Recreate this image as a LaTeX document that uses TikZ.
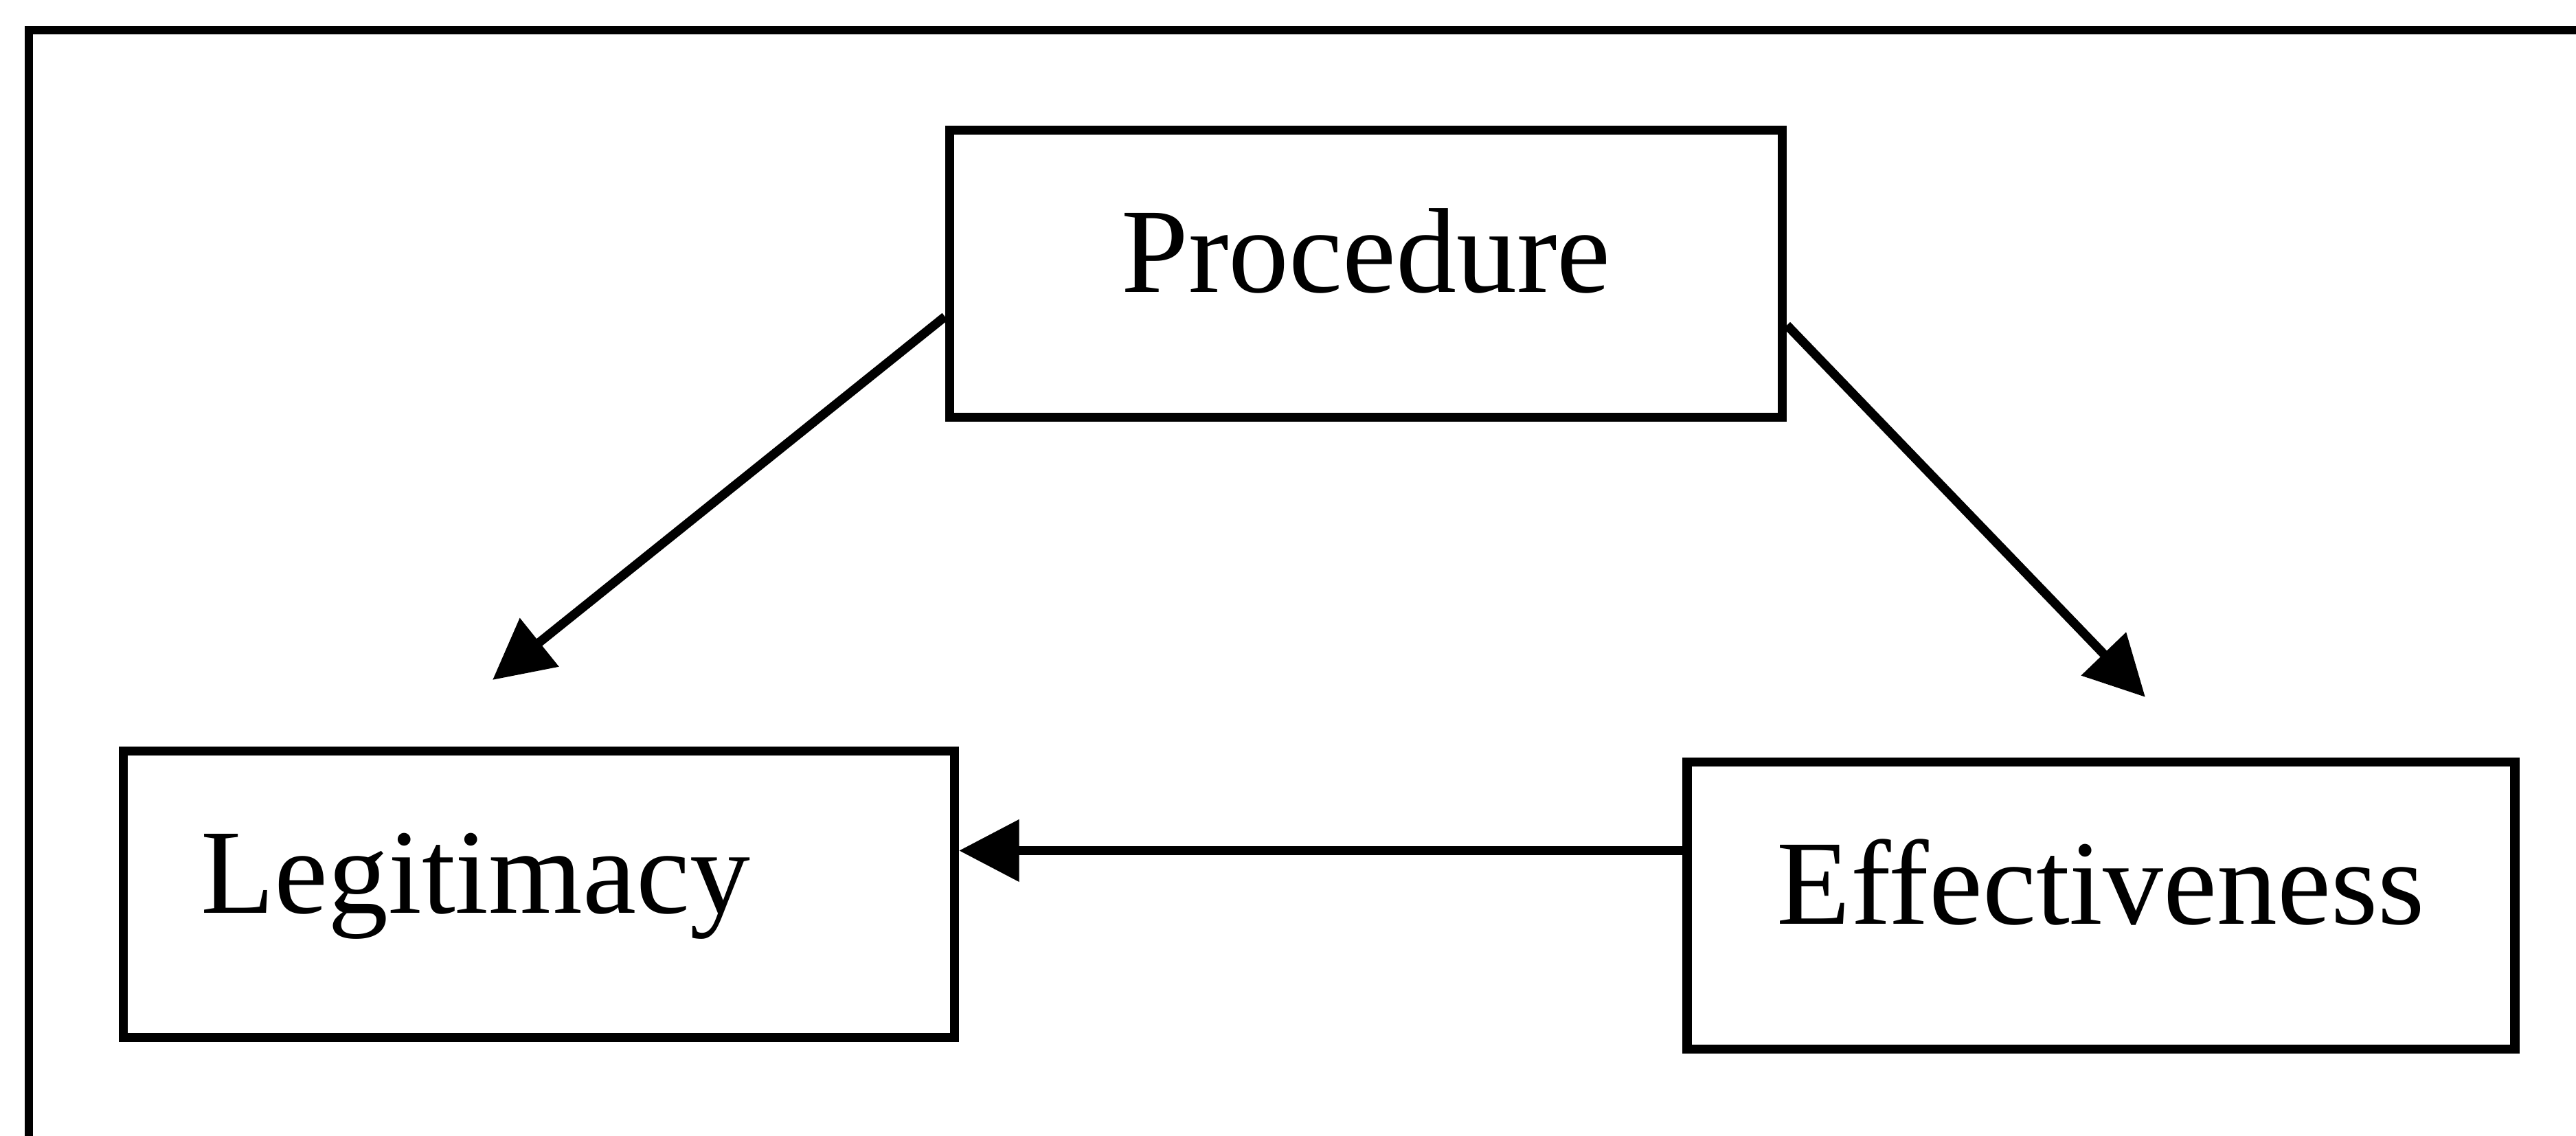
\documentclass[tikz,border=0pt]{standalone}
\usepackage{fontspec}
\setmainfont{Liberation Serif}
\usepackage{tikz}
\usetikzlibrary{arrows.meta,positioning}

\begin{document}
\begin{tikzpicture}[>={Triangle[length=3.5mm,width=3.5mm]},
    box/.style={draw, line width=1.5pt, minimum height=1.67cm, text height=0.5cm, text depth=0.28cm, font=\fontsize{20}{24}\selectfont},
    link/.style={->, line width=1.5pt}]
    \useasboundingbox (0,0) rectangle (15,6.616);

    % Frame
    \draw[line width=1.35pt] (0.168,0) -- (0.168,6.44) -- (15,6.44);

    % Boxes
    \node[box, minimum width=4.85cm] (proc) at (7.954,5.022) {Procedure};
    \node[box, text width=3.94cm, inner xsep=0.45cm, align=left] (legit) at (3.138,1.408) {Legitimacy};
    \node[box, minimum width=4.82cm] (effect) at (12.234,1.342) {Effectiveness};

    \coordinate (legtip) at (2.868,2.656);
    \coordinate (efftip) at (12.492,2.556);

    % Arrows
    \draw[link] ([yshift=-0.25cm]proc.west) -- (legtip);
    \draw[link] ([yshift=-0.30cm]proc.east) -- (efftip);
    \draw[link] ([yshift=0.32cm]effect.west) -- ([yshift=0.32cm]effect.west -| legit.east);
\end{tikzpicture}
\end{document}
